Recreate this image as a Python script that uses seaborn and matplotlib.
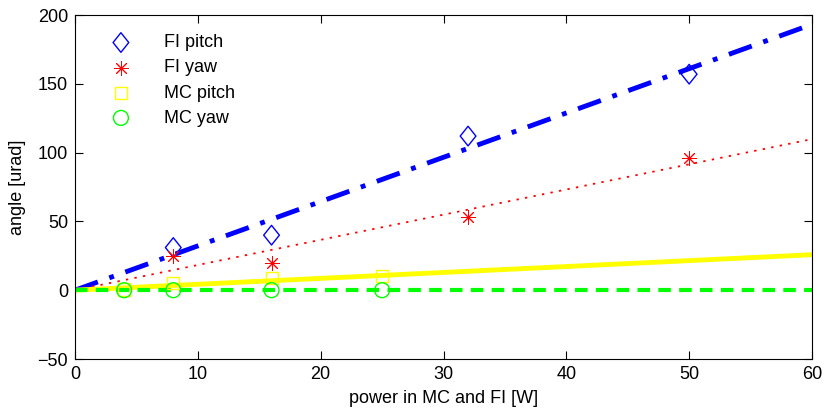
import numpy as np
import pandas as pd
import matplotlib
matplotlib.use("Agg")
import matplotlib.pyplot as plt
from matplotlib.path import Path
import seaborn as sns

# data
fi_x = [8, 16, 32, 50]
fi_pitch = [31, 40, 112, 157]
fi_yaw = [25, 19.5, 53, 96]
mc_x = [4, 8, 16, 25]
mc_pitch = [0.5, 5.5, 9, 10]
mc_yaw = [0, 0, 0, 0]
fit_x = [0, 60]
slope_fi_pitch = 3.22
slope_fi_yaw = 1.83
slope_mc_pitch = 0.43
slope_mc_yaw = 0.0

sns.set_style("ticks")
plt.rcParams['font.family'] = ['Liberation Sans', 'DejaVu Sans']
plt.rcParams.update({'text.color': 'black', 'axes.labelcolor': 'black',
                     'xtick.color': 'black', 'ytick.color': 'black'})

fig = plt.figure(figsize=(8.3, 4.15), dpi=100)
ax = fig.add_axes([75/830, 1-359/415, (812-75)/830, (359-15)/415])

diamond = Path([(0, 1), (0.8, 0), (0, -1), (-0.8, 0), (0, 1)],
               [Path.MOVETO, Path.LINETO, Path.LINETO, Path.LINETO, Path.CLOSEPOLY])

fx = np.array(fit_x, dtype=float)
sns.lineplot(x=fx, y=slope_fi_pitch*fx, ax=ax, color='#0000ff', lw=3.5,
             linestyle=(0, (5, 2.5, 1, 2.5)), legend=False)
sns.lineplot(x=fx, y=slope_fi_yaw*fx, ax=ax, color='#ff0000', lw=1.3,
             linestyle=(0, (1.3, 3.5)), legend=False)
sns.lineplot(x=fx, y=slope_mc_pitch*fx, ax=ax, color='#ffff00', lw=3.5,
             linestyle='-', legend=False)
sns.lineplot(x=fx, y=slope_mc_yaw*fx, ax=ax, color='#00ff00', lw=3.0,
             linestyle=(0, (3, 2)), legend=False)

specs = [
    (fi_x, fi_pitch, diamond, 200, '#0000ff', 'FI pitch', False, 1.0),
    (fi_x, fi_yaw, (8, 2, 0), 100, '#ff0000', 'FI yaw', True, 0.7),
    (mc_x, mc_pitch, 's', 75, '#ffff00', 'MC pitch', False, 1.0),
    (mc_x, mc_yaw, 'o', 115, '#00ff00', 'MC yaw', False, 1.0),
]
for xs, ys, mk, sz, col, lab, filled, lw in specs:
    sns.scatterplot(x=xs, y=ys, ax=ax, marker=mk, s=sz, linewidth=lw,
                    color=col, label=lab, zorder=5)
    coll = ax.collections[-1]
    coll.set_edgecolor(col)
    coll.set_facecolor(col if filled else 'none')

ax.set_xlim(0, 60)
ax.set_ylim(-50, 200)
ax.set_xticks(range(0, 61, 10))
ax.set_yticks(range(-50, 201, 50))
ax.set_xlabel('power in MC and FI [W]', fontsize=13, labelpad=5, color='black')
ax.set_ylabel('angle [urad]', fontsize=13, labelpad=8, color='black')
ax.tick_params(axis='both', labelsize=13, direction='in', length=6, width=0.8,
               color='black', labelcolor='black', top=True, right=True, pad=5)
for s in ax.spines.values():
    s.set_visible(True)
    s.set_linewidth(0.8)
    s.set_color('black')

h, l = ax.get_legend_handles_labels()
leg = ax.legend(h, l, loc='upper left', frameon=False, fontsize=13,
                bbox_to_anchor=(0.028, 0.965), handletextpad=1.4,
                labelspacing=0.45, borderaxespad=0)
for t in leg.get_texts():
    t.set_color('black')
for hd, spec in zip(leg.legend_handles, specs):
    c, filled = spec[4], spec[6]
    hd.set_edgecolor(c)
    hd.set_facecolor(c if filled else 'none')

fig.savefig('out.png', dpi=100)
